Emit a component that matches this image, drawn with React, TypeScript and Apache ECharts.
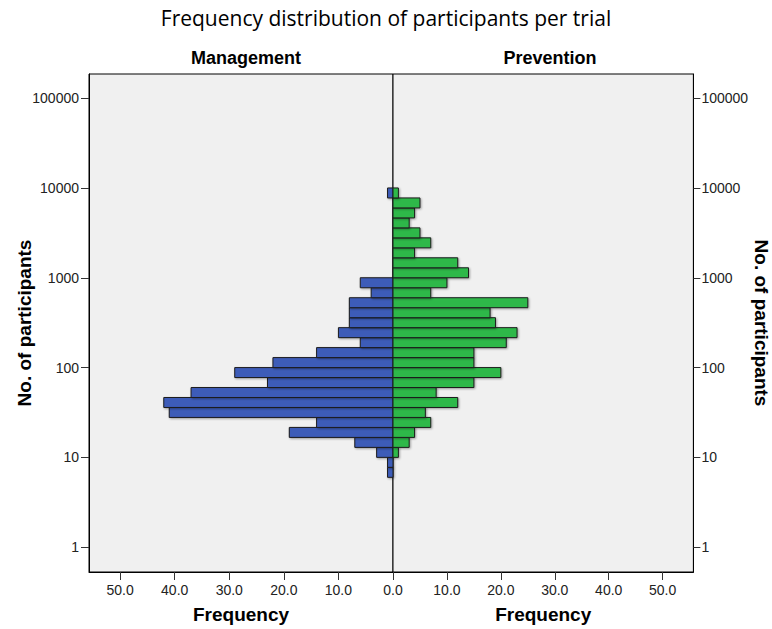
import React, { useEffect, useRef } from "react";
import * as echarts from "echarts";

// Histogram bin edges (participants, log-spaced, 9 bins per decade)
const binEdges = [
  5.995, 7.743, 10, 12.915, 16.681, 21.544, 27.826, 35.938, 46.416, 59.948,
  77.426, 100, 129.15, 166.81, 215.44, 278.26, 359.38, 464.16, 599.48, 774.26,
  1000, 1291.5, 1668.1, 2154.4, 2782.6, 3593.8, 4641.6, 5994.8, 7742.6, 10000,
];
// Counts per bin (from lowest bin upward)
const managementCounts = [
  1, 1, 3, 7, 19, 14, 41, 42, 37, 23, 29, 22, 14, 6, 10, 8, 8, 8, 4, 6, 0, 0, 0, 0, 0, 0, 0, 0, 1,
];
const preventionCounts = [
  0, 0, 1, 3, 4, 7, 6, 12, 8, 15, 20, 15, 15, 21, 23, 19, 18, 25, 7, 10, 14, 12, 4, 7, 5, 3, 4, 5, 1,
];
const yTicks = [1, 10, 100, 1000, 10000, 100000];
const xTicksLeft = [0, 10, 20, 30, 40, 50];
const xTicksRight = [0, 10, 20, 30, 40, 50];
const xLabelsRight = [10, 20, 30, 40, 50];

const BLUE = "#3d5cb8";
const GREEN = "#2db84a";

function toData(counts: number[]) {
  const out: number[][] = [];
  counts.forEach((c, i) => {
    if (c > 0) out.push([binEdges[i], binEdges[i + 1], c]);
  });
  return out;
}

function makeRender(color: string) {
  return (params: any, api: any) => {
    const low = api.value(0);
    const high = api.value(1);
    const count = api.value(2);
    const p0 = api.coord([0, high]);
    const p1 = api.coord([count, low]);
    return {
      type: "rect",
      shape: {
        x: Math.min(p0[0], p1[0]),
        y: Math.min(p0[1], p1[1]),
        width: Math.abs(p1[0] - p0[0]),
        height: Math.abs(p1[1] - p0[1]),
      },
      style: {
        fill: color,
        stroke: "#1c1c1c",
        lineWidth: 1,
        shadowBlur: 2,
        shadowOffsetX: 1,
        shadowOffsetY: 1,
        shadowColor: "rgba(0,0,0,0.35)",
      },
    };
  };
}

const TOP = 74;
const HEIGHT = 501;
const YMIN = 0.529;
const YMAX = 185800;
const XMAX = 55.7;

export default function App() {
  const ref = useRef<HTMLDivElement>(null);
  useEffect(() => {
    if (!ref.current) return;
    const chart = echarts.init(ref.current, null, { renderer: "svg" });
    const labelFont = { fontFamily: "Liberation Sans", fontSize: 14, color: "#222" };
    const nameFont = { fontFamily: "Liberation Sans", fontSize: 19, fontWeight: "bold", color: "#000" };
    const headFont = { fontFamily: "Liberation Sans", fontSize: 18, fontWeight: "bold", color: "#000" };
    const lineStyle = { color: "#000", width: 1 };
    const tickStyle = { color: "#333", width: 1 };
    chart.setOption({
      animation: false,
      backgroundColor: "#fff",
      title: [
        {
          text: "Frequency distribution of participants per trial",
          left: "center",
          top: 2,
          textStyle: { fontFamily: "Open Sans", fontSize: 21, fontWeight: "normal", color: "#000" },
        },
        { text: "Management", left: 241, textAlign: "center", top: 44, textStyle: headFont },
        { text: "Prevention", left: 545, textAlign: "center", top: 44, textStyle: headFont },
      ],
      grid: [
        { left: 89, top: TOP, width: 304, height: HEIGHT, show: true, backgroundColor: "#f0f0f0", borderColor: "#000", borderWidth: 1 },
        { left: 393, top: TOP, width: 304, height: HEIGHT, show: true, backgroundColor: "#f0f0f0", borderColor: "#000", borderWidth: 1 },
      ],
      xAxis: [
        {
          type: "value",
          gridIndex: 0,
          inverse: true,
          min: 0,
          max: XMAX,
          name: "Frequency",
          nameLocation: "middle",
          nameGap: 33,
          nameTextStyle: nameFont,
          axisLine: { show: true, onZero: false, lineStyle },
          axisTick: { show: true, length: 8, lineStyle: tickStyle, customValues: xTicksLeft },
          axisLabel: { ...labelFont, margin: 11, customValues: xTicksLeft, formatter: (v: number) => v.toFixed(1) },
          splitLine: { show: false },
        },
        {
          type: "value",
          gridIndex: 1,
          min: 0,
          max: XMAX,
          name: "Frequency",
          nameLocation: "middle",
          nameGap: 33,
          nameTextStyle: nameFont,
          axisLine: { show: true, onZero: false, lineStyle },
          axisTick: { show: true, length: 8, lineStyle: tickStyle, customValues: xTicksRight },
          axisLabel: { ...labelFont, margin: 11, customValues: xLabelsRight, formatter: (v: number) => v.toFixed(1) },
          splitLine: { show: false },
        },
      ],
      yAxis: [
        {
          type: "log",
          logBase: 10,
          gridIndex: 0,
          position: "left",
          min: YMIN,
          max: YMAX,
          name: "No. of participants",
          nameLocation: "middle",
          nameGap: 55,
          nameMoveOverlap: false,
          nameTextStyle: nameFont,
          axisLine: { show: true, onZero: false, lineStyle },
          axisTick: { show: true, length: 8, lineStyle: tickStyle, customValues: yTicks },
          axisLabel: { ...labelFont, margin: 10, customValues: yTicks, formatter: (v: number) => String(Math.round(v)) },
          splitLine: { show: false },
        },
        {
          type: "log",
          logBase: 10,
          gridIndex: 1,
          position: "right",
          min: YMIN,
          max: YMAX,
          name: "No. of participants",
          nameLocation: "middle",
          nameGap: 55,
          nameRotate: -90,
          nameTextStyle: nameFont,
          axisLine: { show: true, onZero: false, lineStyle },
          axisTick: { show: true, length: 7, lineStyle: tickStyle, customValues: yTicks },
          axisLabel: { ...labelFont, margin: 8, customValues: yTicks, formatter: (v: number) => String(Math.round(v)) },
          splitLine: { show: false },
        },
      ],
      series: [
        {
          name: "Management",
          type: "custom",
          xAxisIndex: 0,
          yAxisIndex: 0,
          renderItem: makeRender(BLUE),
          encode: { x: 2, y: [0, 1] },
          data: toData(managementCounts),
        },
        {
          name: "Prevention",
          type: "custom",
          xAxisIndex: 1,
          yAxisIndex: 1,
          renderItem: makeRender(GREEN),
          encode: { x: 2, y: [0, 1] },
          data: toData(preventionCounts),
        },
      ],
    });
    return () => chart.dispose();
  }, []);
  return (
    <div
      ref={ref}
      style={{ position: "fixed", left: 0, top: 0, width: 772, height: 629 }}
    />
  );
}
